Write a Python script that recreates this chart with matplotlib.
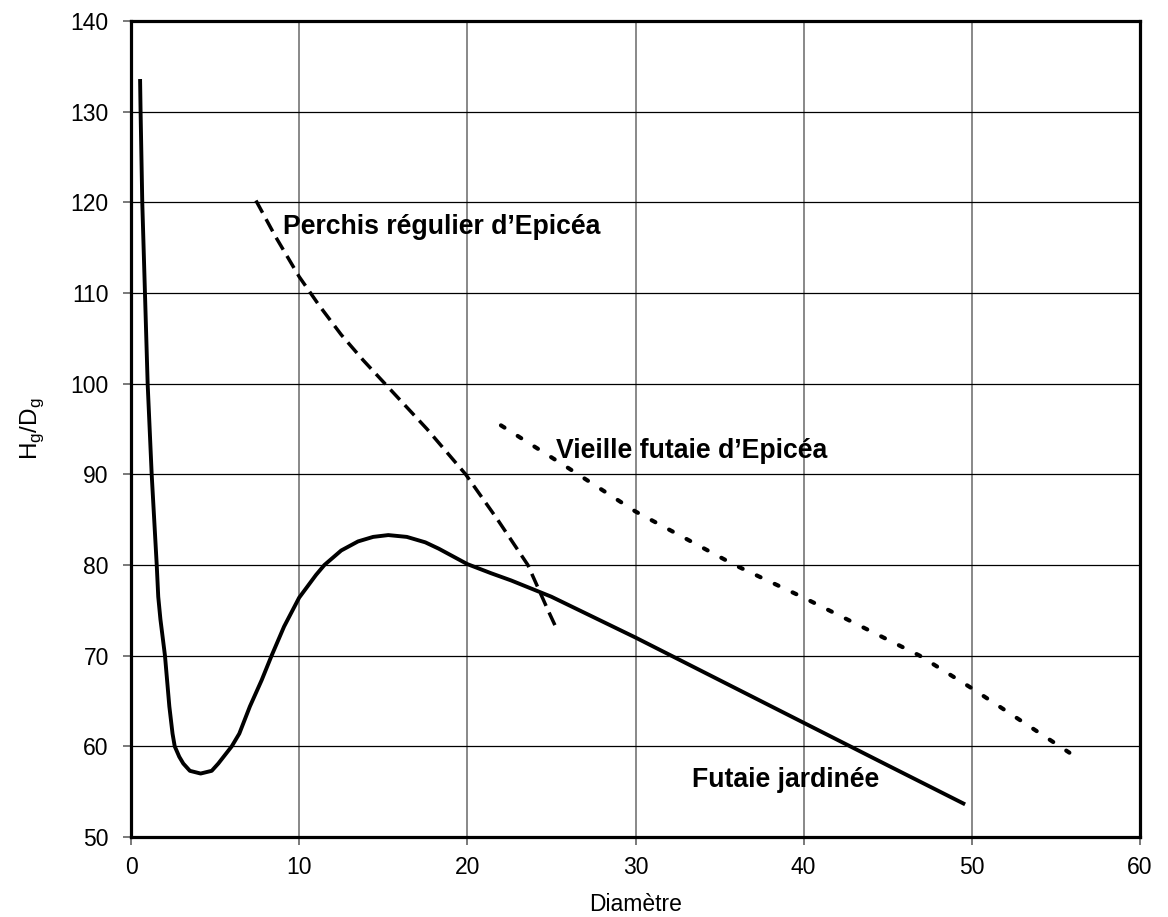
import matplotlib
matplotlib.use("Agg")
import matplotlib.pyplot as plt

plt.rcParams["font.family"] = ["Liberation Sans", "DejaVu Sans"]
plt.rcParams["mathtext.fontset"] = "custom"
plt.rcParams["mathtext.rm"] = "Liberation Sans"

# Futaie jardinée (selection forest) – Hg/Dg against diameter
jard_x = [0.54, 0.57, 0.67, 0.83, 0.99, 1.23, 1.53, 1.62, 1.75, 2.02, 2.28, 2.47, 2.6,
          2.87, 3.11, 3.5, 4.14, 4.8, 5.19, 5.99, 6.44, 7.07, 7.77, 8.36, 9.1, 10.0,
          11.0, 11.5, 12.5, 13.5, 14.4, 15.3, 16.4, 17.5, 18.3, 19.0, 20.0, 21.4, 22.6,
          25.0, 30.0, 35.0, 40.0, 45.0, 49.6]
jard_y = [133.6, 130.0, 120.0, 110.0, 100.0, 90.0, 80.0, 76.5, 74.0, 70.0, 64.4, 61.4, 60.0,
          58.85, 58.1, 57.3, 57.0, 57.3, 58.1, 60.0, 61.4, 64.4, 67.3, 70.0, 73.2, 76.4,
          78.9, 80.0, 81.6, 82.6, 83.1, 83.3, 83.1, 82.5, 81.8, 81.1, 80.1, 79.1, 78.3,
          76.5, 72.0, 67.3, 62.6, 57.9, 53.6]

# Perchis régulier d'Epicéa (even-aged spruce pole stand)
perch_x = [7.43, 8.6, 10.0, 11.2, 12.5, 13.8, 15.1, 17.6, 19.9, 21.8, 23.6, 24.8, 25.35]
perch_y = [120.2, 116.2, 111.8, 108.6, 105.4, 102.6, 100.0, 95.0, 90.0, 85.0, 80.0, 75.0, 72.8]

# Vieille futaie d'Epicéa (old spruce high forest)
vieil_x = [22.0, 26.0, 30.0, 35.9, 40.0, 46.9, 50.0, 55.8]
vieil_y = [95.4, 90.7, 85.9, 80.0, 76.4, 70.0, 66.4, 59.3]

x_ticks = [0, 10, 20, 30, 40, 50, 60]
y_ticks = [50, 60, 70, 80, 90, 100, 110, 120, 130, 140]

fig = plt.figure(figsize=(11.68, 9.17), dpi=100)
ax = fig.add_axes([131 / 1168, 1 - 837 / 917, (1140 - 131) / 1168, (837 - 21) / 917])

ax.set_xlim(0, 60)
ax.set_ylim(50, 140)
ax.set_xticks(x_ticks)
ax.set_yticks(y_ticks)

# grid: black horizontal lines, grey vertical lines
ax.yaxis.grid(True, color="black", linewidth=0.9)
ax.xaxis.grid(True, color="#7f7f7f", linewidth=1.3)
ax.set_axisbelow(True)

for s in ax.spines.values():
    s.set_linewidth(2.3)
    s.set_color("black")

ax.tick_params(axis="both", direction="out", length=6, width=1.1, color="#555555",
               labelsize=16.5)
ax.tick_params(axis="x", pad=8)
ax.tick_params(axis="y", pad=10)

ax.plot(jard_x, jard_y, color="black", linewidth=2.8, solid_capstyle="butt",
        solid_joinstyle="round")
ax.plot(perch_x, perch_y, color="black", linewidth=2.5, linestyle=(0, (4.0, 2.1)),
        dash_capstyle="butt", solid_joinstyle="round")
ax.plot(vieil_x, vieil_y, color="black", linewidth=3.0, linestyle=(0, (1.0, 3.75)),
        dash_capstyle="round")

label_kw = dict(fontsize=19.2, fontweight="bold", va="baseline", ha="left")
ax.text(9.02, 116.55, "Perchis régulier d\u2019Epicéa", **label_kw)
ax.text(25.27, 91.75, "Vieille futaie d\u2019Epicéa", **label_kw)
ax.text(33.35, 55.5, "Futaie jardinée", **label_kw)

ax.set_xlabel("Diamètre", fontsize=16.5, labelpad=10)
ax.set_ylabel(r"H$_\mathrm{g}$/D$_\mathrm{g}$", fontsize=17.5, labelpad=18)

fig.savefig("out.png", dpi=100)
